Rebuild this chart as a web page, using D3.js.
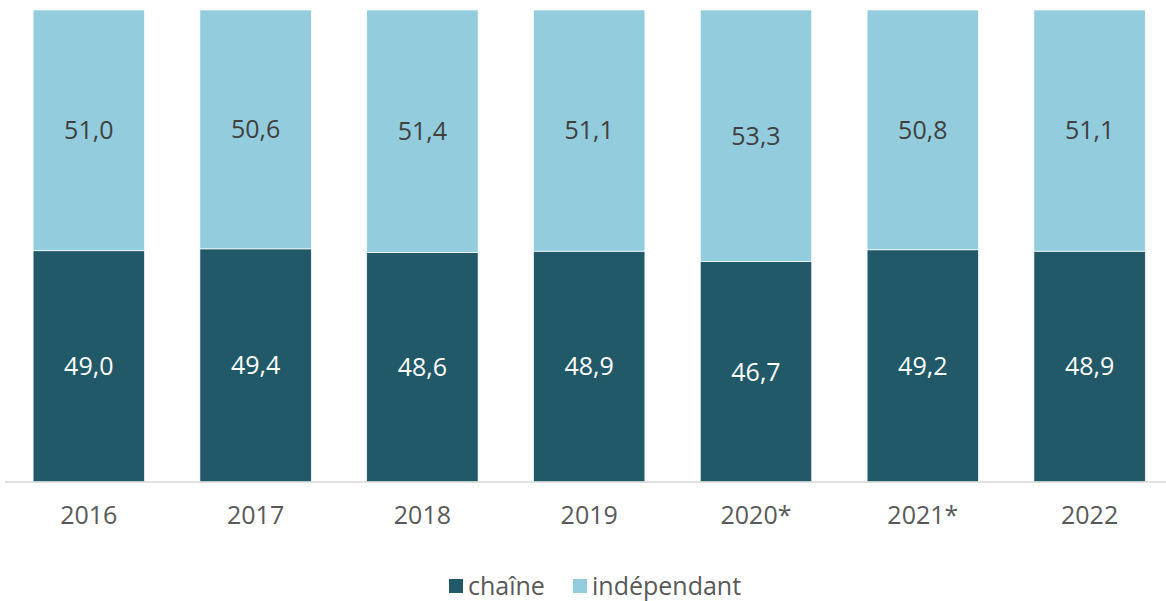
<!DOCTYPE html>
<html>
<head>
<meta charset="utf-8">
<script src="https://cdn.jsdelivr.net/npm/d3@7"></script>
<style>
  body { margin: 0; background: #fff; }
  text { font-family: "Open Sans", "Noto Sans", sans-serif; }
</style>
</head>
<body>
<div id="chart"></div>
<script>
// data
var years = ["2016", "2017", "2018", "2019", "2020*", "2021*", "2022"];
var chaine = [49.0, 49.4, 48.6, 48.9, 46.7, 49.2, 48.9];
var independant = [51.0, 50.6, 51.4, 51.1, 53.3, 50.8, 51.1];
var seriesNames = ["chaîne", "indépendant"];
var colors = ["#215968", "#93cddd"];

var width = 1166, height = 601;
var plotTop = 10, plotBottom = 482;
var fontSize = "25px";

var svg = d3.select("#chart").append("svg")
    .attr("width", width)
    .attr("height", height);

// schalen
var xScale = d3.scaleBand()
    .domain(years)
    .range([5.4, 1173])
    .paddingInner(0.332)
    .paddingOuter(0.166);

var yScale = d3.scaleLinear()
    .domain([0, 100])
    .range([plotBottom, plotTop]);

// stack data
var rows = years.map(function(y, i) {
  return {year: y, "chaîne": chaine[i], "indépendant": independant[i]};
});
var stacked = d3.stack().keys(seriesNames)(rows);

var layers = svg.append("g").selectAll("g")
    .data(stacked)
    .enter().append("g")
    .attr("fill", function(d, i) { return colors[i]; });

layers.selectAll("rect")
    .data(function(d) { return d; })
    .enter().append("rect")
    .attr("x", function(d) { return xScale(d.data.year); })
    .attr("width", xScale.bandwidth())
    .attr("y", function(d) { return yScale(d[1]); })
    .attr("height", function(d) { return yScale(d[0]) - yScale(d[1]); })
    .attr("stroke", "#fff")
    .attr("stroke-width", 0.7);

// labels in de balken
layers.each(function(layer, li) {
  d3.select(this).selectAll("text")
      .data(layer)
      .enter().append("text")
      .attr("x", function(d) { return xScale(d.data.year) + xScale.bandwidth() / 2; })
      .attr("y", function(d) { return (yScale(d[0]) + yScale(d[1])) / 2; })
      .attr("dy", "0.35em")
      .attr("text-anchor", "middle")
      .attr("font-size", fontSize)
      .attr("fill", li === 0 ? "#ffffff" : "#404040")
      .text(function(d) { return d3.format(".1f")(d[1] - d[0]).replace(".", ","); });
});

// x-as
var xAxis = svg.append("g")
    .attr("transform", "translate(0," + plotBottom + ")")
    .call(d3.axisBottom(xScale).tickSize(0).tickPadding(24));
xAxis.select(".domain").attr("stroke", "#d9d9d9").attr("stroke-width", 1.5)
    .attr("d", "M5,0H1166");
xAxis.selectAll("text")
    .attr("font-size", fontSize)
    .attr("fill", "#595959")
    .style("font-family", "'Open Sans', 'Noto Sans', sans-serif");

// legenda
var legendX = [449, 573];
var legend = svg.append("g").selectAll("g")
    .data(seriesNames)
    .enter().append("g")
    .attr("transform", function(d, i) { return "translate(" + legendX[i] + ",586)"; });

legend.append("rect")
    .attr("x", 0)
    .attr("y", -7)
    .attr("width", 14)
    .attr("height", 14)
    .attr("fill", function(d, i) { return colors[i]; });

legend.append("text")
    .attr("x", 19)
    .attr("dy", "0.35em")
    .attr("font-size", fontSize)
    .attr("fill", "#595959")
    .text(function(d) { return d; });
</script>
</body>
</html>
